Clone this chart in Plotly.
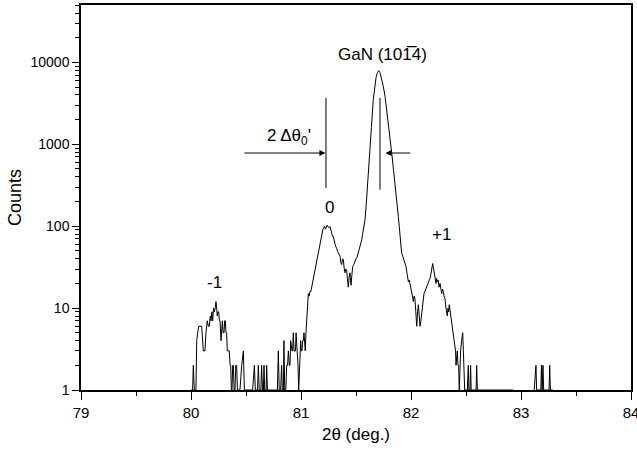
import plotly.graph_objects as go

two_theta = [
    80.000, 80.015, 80.021, 80.030, 80.045, 80.052, 80.061, 80.070, 80.082, 80.097,
    80.112, 80.127, 80.136, 80.148, 80.158, 80.167, 80.175, 80.182, 80.190, 80.197,
    80.205, 80.212, 80.220, 80.227, 80.233, 80.239, 80.245, 80.252, 80.258, 80.264,
    80.273, 80.280, 80.285, 80.292, 80.300, 80.306, 80.312, 80.318, 80.324, 80.330,
    80.336, 80.342, 80.348, 80.355, 80.361, 80.367, 80.373, 80.379, 80.385, 80.392,
    80.400, 80.407, 80.415, 80.422, 80.430, 80.445, 80.461, 80.470, 80.476, 80.485,
    80.520, 80.560, 80.576, 80.585, 80.605, 80.612, 80.620, 80.635, 80.642, 80.650,
    80.658, 80.664, 80.670, 80.683, 80.688, 80.695, 80.740, 80.785, 80.794, 80.802,
    80.815, 80.824, 80.830, 80.840, 80.845, 80.852, 80.862, 80.870, 80.878, 80.885,
    80.894, 80.900, 80.906, 80.912, 80.918, 80.924, 80.930, 80.937, 80.945, 80.950,
    80.955, 80.961, 80.967, 80.973, 80.979, 80.985, 80.991, 80.997, 81.003, 81.009,
    81.015, 81.021, 81.027, 81.033, 81.039, 81.045, 81.052, 81.060, 81.067, 81.075,
    81.082, 81.090, 81.097, 81.105, 81.112, 81.120, 81.127, 81.135, 81.142, 81.150,
    81.158, 81.166, 81.174, 81.182, 81.190, 81.198, 81.206, 81.214, 81.222, 81.230,
    81.238, 81.246, 81.255, 81.264, 81.272, 81.280, 81.287, 81.294, 81.302, 81.310,
    81.317, 81.324, 81.332, 81.340, 81.347, 81.355, 81.362, 81.370, 81.378, 81.385,
    81.392, 81.400, 81.407, 81.415, 81.422, 81.430, 81.437, 81.445, 81.450, 81.455,
    81.462, 81.470, 81.480, 81.491, 81.500, 81.510, 81.521, 81.530, 81.540, 81.552,
    81.560, 81.570, 81.582, 81.592, 81.603, 81.615, 81.627, 81.640, 81.657, 81.670,
    81.682, 81.695, 81.706, 81.718, 81.733, 81.748, 81.764, 81.779, 81.794, 81.810,
    81.824, 81.840, 81.855, 81.870, 81.885, 81.893, 81.900, 81.908, 81.915, 81.925,
    81.936, 81.945, 81.955, 81.965, 81.976, 81.984, 81.991, 81.999, 82.006, 82.013,
    82.021, 82.028, 82.036, 82.044, 82.052, 82.060, 82.067, 82.075, 82.082, 82.090,
    82.097, 82.105, 82.112, 82.118, 82.126, 82.134, 82.142, 82.150, 82.158, 82.165,
    82.173, 82.181, 82.189, 82.197, 82.204, 82.212, 82.219, 82.227, 82.233, 82.239,
    82.247, 82.255, 82.264, 82.272, 82.279, 82.287, 82.294, 82.300, 82.309, 82.318,
    82.324, 82.330, 82.336, 82.342, 82.348, 82.356, 82.364, 82.372, 82.378, 82.385,
    82.392, 82.400, 82.405, 82.409, 82.415, 82.421, 82.427, 82.433, 82.439, 82.445,
    82.451, 82.460, 82.470, 82.476, 82.482, 82.488, 82.500, 82.512, 82.521, 82.526,
    82.536, 82.542, 82.547, 82.592, 82.597, 82.603, 82.700, 82.930, 83.000, 83.120,
    83.136, 83.142, 83.180, 83.186, 83.192, 83.200, 83.206, 83.255, 83.261, 83.267,
    83.290,
]

counts = [
    1, 1, 2, 1, 1, 4, 5, 6, 6, 6,
    3, 3, 5, 7, 6, 6, 8, 7, 9, 7,
    10, 9, 10, 12, 10, 8, 9, 9, 7, 7,
    4, 7, 7, 5, 5, 7, 7, 5, 5, 3,
    3, 3, 3, 2, 2, 1, 1, 2, 2, 1,
    1, 2, 2, 1, 1, 1, 2, 3, 3, 1,
    1, 1, 2, 1, 1, 2, 1, 1, 2, 1,
    1, 2, 1, 1, 2, 1, 1, 1, 3, 1,
    1, 2, 1, 1, 4, 1, 1, 2, 2, 3,
    2, 2, 4, 3, 3, 3, 5, 3, 3, 3,
    5, 4, 3, 2, 1, 2, 4, 4, 3, 3,
    4, 4, 5, 4, 3, 5, 8, 12, 15, 14,
    16, 16, 18, 20, 23, 26, 29, 33, 35, 44,
    51, 58, 66, 72, 82, 90, 96, 100, 92, 97,
    103, 98, 96, 99, 88, 80, 75, 75, 64, 60,
    56, 54, 49, 46, 44, 43, 36, 34, 40, 39,
    31, 27, 30, 29, 23, 18, 24, 27, 22, 19,
    25, 32, 34, 39, 40, 42, 47, 52, 58, 68,
    80, 98, 120, 175, 279, 440, 800, 1600, 3500, 5200,
    6500, 7500, 7900, 7500, 6400, 5100, 3850, 2700, 1820, 1250,
    800, 500, 336, 200, 131, 100, 75, 58, 47, 43,
    39, 36, 32, 26, 21, 22, 20, 17, 15, 14,
    12, 14, 13, 9, 6, 9, 11, 8, 6, 7,
    9, 11, 13, 15, 16, 17, 18, 19, 21, 22,
    23, 26, 29, 35, 31, 27, 24, 20, 23, 21,
    22, 18, 20, 17, 15, 17, 16, 14, 13, 10,
    9, 8, 10, 9, 11, 9, 8, 6, 6, 5,
    4, 3, 3, 2, 3, 3, 2, 2, 1, 2,
    3, 4, 5, 3, 2, 1, 1, 1, 2, 1,
    1, 2, 1, 1, 2, 1, 1, 1, None, 1,
    2, 1, 1, 2, 1, 2, 1, 1, 2, 1,
    1,
]

x_ticks = [79, 80, 81, 82, 83, 84]
y_ticks = [1, 10, 100, 1000, 10000]
y_tick_text = ["1", "10", "100", "1000", "10000"]

peak_labels = ["-1", "0", "+1"]
peak_label_x = [80.218, 81.262, 82.273]
peak_label_logy = [1.308, 2.225, 1.895]

# marker lines (2θ position, count range)
marker_x = [81.227, 81.718]
marker_low = [292.0, 279.0]
marker_high = [3680.0, 3680.0]

FONT = "Liberation Sans, Arial, sans-serif"

fig = go.Figure()
fig.add_trace(go.Scatter(
    x=two_theta, y=counts, mode="lines",
    line=dict(color="black", width=1),
    connectgaps=False, showlegend=False, hoverinfo="skip",
))

annotations = []
for t, xx, yy in zip(peak_labels, peak_label_x, peak_label_logy):
    annotations.append(dict(x=xx, y=yy, xref="x", yref="y", text=t, showarrow=False,
                            font=dict(size=17, color="black", family=FONT)))
annotations.append(dict(x=81.745, y=4.095, xref="x", yref="y", text="GaN (101\u03054)",
                        showarrow=False, font=dict(size=17, color="black", family=FONT)))
annotations.append(dict(x=80.89, y=3.093, xref="x", yref="y", text="2 \u0394\u03b8<sub>0</sub>'",
                        showarrow=False, font=dict(size=17, color="black", family=FONT)))
# arrows
annotations.append(dict(x=81.222, y=2.893, ax=80.473, ay=2.893, xref="x", yref="y",
                        axref="x", ayref="y", text="", showarrow=True, arrowhead=2,
                        arrowsize=1.2, arrowwidth=1, arrowcolor="black"))
annotations.append(dict(x=81.768, y=2.893, ax=82.006, ay=2.893, xref="x", yref="y",
                        axref="x", ayref="y", text="", showarrow=True, arrowhead=2,
                        arrowsize=1.2, arrowwidth=1, arrowcolor="black"))

shapes = [
    dict(type="line", xref="x", yref="y", x0=mx, x1=mx, y0=lo, y1=hi,
         line=dict(color="black", width=1))
    for mx, lo, hi in zip(marker_x, marker_low, marker_high)
]

fig.update_layout(
    width=637, height=453,
    margin=dict(l=81, r=6, t=5, b=63),
    paper_bgcolor="white", plot_bgcolor="white",
    font=dict(family=FONT, color="black"),
    annotations=annotations, shapes=shapes,
    xaxis=dict(
        range=[79, 84], tickvals=x_ticks, ticks="outside", ticklen=8, tickwidth=1,
        tickcolor="black", showgrid=False, zeroline=False, automargin=False,
        showline=True, linecolor="black", linewidth=1.5, mirror=True,
        tickfont=dict(size=15, family=FONT), ticklabeloverflow="allow",
        minor=dict(dtick=0.5, ticks="outside", ticklen=4, tickcolor="black", showgrid=False),
        title=dict(text="2\u03b8 (deg.)", font=dict(size=17, family=FONT), standoff=8),
    ),
    yaxis=dict(
        type="log", range=[0, 4.70], tickvals=y_ticks, ticktext=y_tick_text,
        ticks="outside", ticklen=7, tickwidth=1, tickcolor="black",
        showgrid=False, zeroline=False, automargin=False,
        showline=True, linecolor="black", linewidth=1.5, mirror=True,
        tickfont=dict(size=14, family=FONT),
        minor=dict(dtick="D1", ticks="outside", ticklen=4, tickcolor="black", showgrid=False),
        title=dict(text="Counts", font=dict(size=18, family=FONT), standoff=4),
    ),
)

fig.write_html("out.html")
